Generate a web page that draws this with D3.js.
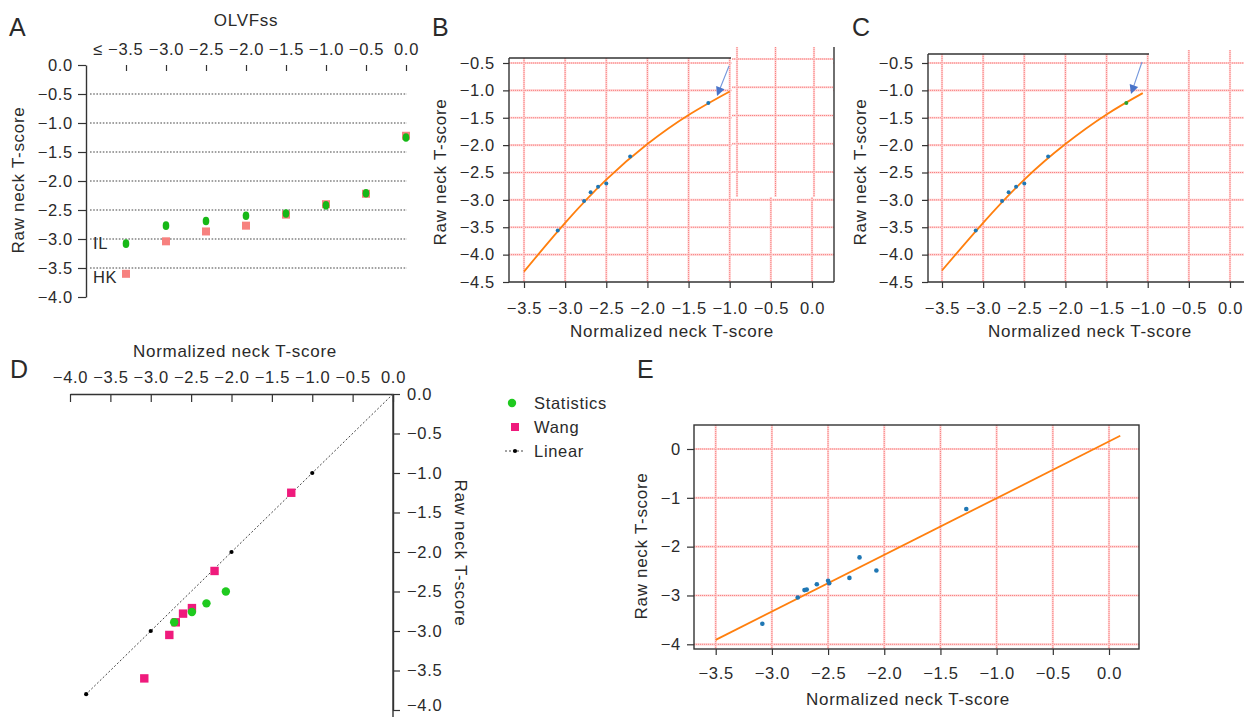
<!DOCTYPE html>
<html><head><meta charset="utf-8">
<script src="https://cdn.jsdelivr.net/npm/d3@7"></script>
<style>
body{margin:0;background:#fff;}
svg{font-family:"Liberation Sans",Arial,sans-serif;}
text{fill:#2a2a2a;}
</style></head>
<body>
<svg id="c" width="1244" height="717"></svg>
<script>
// ---------- DATA ----------
const olvfCategories = ["≤ −3.5","−3.0","−2.5","−2.0","−1.5","−1.0","−0.5","0.0"];
const aStatistics = [-3.08,-2.77,-2.69,-2.60,-2.56,-2.42,-2.21,-1.25];
const aWang       = [-3.60,-3.04,-2.87,-2.77,-2.58,-2.40,-2.22,-1.22];
const aYTicks = [0,-0.5,-1,-1.5,-2,-2.5,-3,-3.5,-4];

const fitNorm = [-3.09,-2.77,-2.69,-2.60,-2.50,-2.21,-1.26];
const fitRaw  = [-3.56,-3.02,-2.86,-2.76,-2.70,-2.21,-1.23];
const curveBNorm = [-3.5,-3.0,-2.5,-2.0,-1.5,-1.0];
const curveBRaw  = [-4.31,-3.42,-2.63,-1.98,-1.45,-1.02];
const curveCNorm = [-3.5,-3.0,-2.5,-2.0,-1.5,-1.06];
const curveCRaw  = [-4.29,-3.42,-2.63,-1.98,-1.44,-1.05];
const bcXTicks = [-3.5,-3,-2.5,-2,-1.5,-1,-0.5,0];
const bcYTicks = [-0.5,-1,-1.5,-2,-2.5,-3,-3.5,-4,-4.5];

const dWangNorm = [-1.26,-2.21,-2.49,-2.60,-2.69,-2.77,-3.08];
const dWangRaw  = [-1.25,-2.24,-2.71,-2.78,-2.89,-3.05,-3.60];
const dStatNorm = [-2.07,-2.31,-2.49,-2.71];
const dStatRaw  = [-2.50,-2.65,-2.76,-2.89];
const dLinear   = [0,-1,-2,-3,-3.8];
const dXTicks = [-4,-3.5,-3,-2.5,-2,-1.5,-1,-0.5,0];
const dYTicks = [0,-0.5,-1,-1.5,-2,-2.5,-3,-3.5,-4];

const eNorm = [-3.085,-2.77,-2.71,-2.69,-2.60,-2.50,-2.49,-2.31,-2.22,-2.07,-1.27];
const eRaw  = [-3.58,-3.04,-2.89,-2.88,-2.77,-2.70,-2.75,-2.64,-2.22,-2.49,-1.23];
const eLineNorm = [-3.5,0.1];
const eLineRaw  = [-3.91,0.27];
const eXTicks = [-3.5,-3,-2.5,-2,-1.5,-1,-0.5,0];
const eYTicks = [0,-1,-2,-3,-4];

const legendItems = ["Statistics","Wang","Linear"];

// ---------- STYLE ----------
const FS = 16.5, LS = "0.7px";
const GREEN = "#16b816", SALMON = "#f7817f", MAGENTA = "#ef1a7c";
const BLUE = "#1f77b4", ORANGE = "#ff7f0e", AXIS = "#333";
const f1 = d3.format(".1f");
const f0 = d3.format("d");

const svg = d3.select("#c");

function styleAxis(g){
  g.selectAll("text").attr("font-size",FS).attr("letter-spacing",LS).attr("fill","#2a2a2a")
   .attr("font-family","Liberation Sans, Arial, sans-serif");
  g.selectAll("line").attr("stroke",AXIS).attr("stroke-width",1.2);
  g.selectAll("path.domain").attr("stroke",AXIS).attr("stroke-width",1.4);
}
function label(x,y,t,opts={}){
  const el = svg.append("text").attr("x",x).attr("y",y).text(t)
    .attr("font-size",opts.size||FS+0.5).attr("letter-spacing",opts.ls===undefined?LS:opts.ls)
    .attr("text-anchor",opts.anchor||"start");
  if(opts.rotate!==undefined) el.attr("transform",`rotate(${opts.rotate},${x},${y})`);
  return el;
}
function pinkLine(g,x1,y1,x2,y2){
  g.append("line").attr("x1",x1).attr("y1",y1).attr("x2",x2).attr("y2",y2)
    .attr("stroke","#ffd0d0").attr("stroke-width",2.2);
  g.append("line").attr("x1",x1).attr("y1",y1).attr("x2",x2).attr("y2",y2)
    .attr("stroke","#f77a7a").attr("stroke-width",0.9).attr("stroke-dasharray","1 1");
}
function hline(x1,y,x2,w=1.4){svg.append("line").attr("x1",x1).attr("x2",x2).attr("y1",y).attr("y2",y).attr("stroke",AXIS).attr("stroke-width",w);}
function vline(x,y1,y2,w=1.4){svg.append("line").attr("x1",x).attr("x2",x).attr("y1",y1).attr("y2",y2).attr("stroke",AXIS).attr("stroke-width",w);}

// ---------- PANEL A ----------
{
  const x = d3.scalePoint().domain(olvfCategories).range([126,406]);
  const y = d3.scaleLinear().domain([0,-4]).range([65,297]);
  const g = svg.append("g");
  aYTicks.filter(v=>v<0 && v>-4).forEach(v=>{
    g.append("line").attr("x1",90).attr("x2",407).attr("y1",y(v)).attr("y2",y(v))
     .attr("stroke","#444").attr("stroke-width",1.1).attr("stroke-dasharray","1.6 1.6");
  });
  svg.append("g").attr("transform","translate(0,65)")
    .call(d3.axisTop(x).tickSize(-6).tickPadding(10))
    .call(gg=>gg.select(".domain").remove()).call(styleAxis)
    .call(gg=>gg.selectAll(".tick text").filter((d,i)=>i===0).attr("text-anchor","end").attr("x",17));
  svg.append("g").attr("transform","translate(86,0)")
    .call(d3.axisLeft(y).tickValues(aYTicks).tickFormat(f1).tickSize(8).tickPadding(5).tickSizeOuter(0))
    .call(styleAxis);
  g.selectAll("rect.w").data(aWang).join("rect")
    .attr("x",(d,i)=>x(olvfCategories[i])-4).attr("y",d=>y(d)-4).attr("width",8).attr("height",8).attr("fill",SALMON);
  g.selectAll("ellipse.s").data(aStatistics).join("ellipse")
    .attr("cx",(d,i)=>x(olvfCategories[i])).attr("cy",d=>y(d)).attr("rx",3.3).attr("ry",4.3).attr("fill",GREEN);
  label(93,249,"IL",{size:FS});
  label(93,283,"HK",{size:FS});
  label(246,26,"OLVFss",{anchor:"middle"});
  label(24,180,"Raw neck T-score",{anchor:"middle",rotate:-90});
  label(9,36,"A",{size:25,ls:0});
}

// ---------- PANELS B & C ----------
function curvePanel(opt){
  const x = d3.scaleLinear().domain([-3.5,0]).range(opt.xr);
  const y = d3.scaleLinear().domain([-0.5,-4.5]).range([63,282]);
  const g = svg.append("g");
  bcYTicks.slice(0,-1).forEach(v=>pinkLine(g,opt.left,y(v),opt.gridRight,y(v)));
  bcXTicks.forEach(v=>pinkLine(g,x(v),x(v)>opt.topEnd?opt.gridTop:opt.top,x(v),282));
  if(opt.patch){
    // pasted, slightly offset grid patch (upper-right of panel B)
    const px = d3.scaleLinear().domain([-1,0]).range([737,814]);
    const py = d3.scaleLinear().domain([-0.5,-2.5]).range([59,172]);
    g.append("rect").attr("x",731.5).attr("y",45).attr("width",102).attr("height",152).attr("fill","#fff");
    [-0.5,-1,-1.5,-2,-2.5].forEach(v=>pinkLine(g,732,py(v),833,py(v)));
    [-1,-0.5,0].forEach(v=>pinkLine(g,px(v),47,px(v),197));
    vline(834,47,282);
  }
  // frame
  hline(opt.left,opt.top,opt.topEnd);
  // axes
  svg.append("g").attr("transform","translate(0,282)")
    .call(d3.axisBottom(x).tickValues(bcXTicks).tickFormat(f1).tickSize(6).tickPadding(14))
    .call(gg=>gg.select(".domain").remove()).call(styleAxis);
  hline(opt.left,282,opt.axisRight);
  svg.append("g").attr("transform",`translate(${opt.left},0)`)
    .call(d3.axisLeft(y).tickValues(bcYTicks).tickFormat(f1).tickSize(6).tickPadding(8))
    .call(gg=>gg.select(".domain").remove()).call(styleAxis);
  vline(opt.left,opt.top,282);
  // fit curve
  const line = d3.line().x(d=>x(d[0])).y(d=>y(d[1])).curve(d3.curveNatural);
  g.append("path").datum(opt.cx.map((v,i)=>[v,opt.cy[i]])).attr("d",line)
    .attr("fill","none").attr("stroke",ORANGE).attr("stroke-width",1.8);
  g.selectAll("circle.p").data(fitNorm).join("circle")
    .attr("cx",d=>x(d)).attr("cy",(d,i)=>y(fitRaw[i])).attr("r",2)
    .attr("fill",(d,i)=>(opt.lastGreen && i===fitNorm.length-1)?"#2ca02c":BLUE);
  // arrow
  const a = opt.arrow;
  const ang = Math.atan2(a[3]-a[1],a[2]-a[0]);
  g.append("line").attr("x1",a[0]).attr("y1",a[1]).attr("x2",a[2]-Math.cos(ang)*6).attr("y2",a[3]-Math.sin(ang)*6)
    .attr("stroke","#7296dc").attr("stroke-width",1.1);
  const hl=9, hw=4.5;
  const bx=a[2]-Math.cos(ang)*hl, by=a[3]-Math.sin(ang)*hl;
  g.append("path").attr("d",`M${a[2]},${a[3]}L${bx-Math.sin(ang)*hw},${by+Math.cos(ang)*hw}L${bx+Math.sin(ang)*hw},${by-Math.cos(ang)*hw}Z`)
    .attr("fill","#4a74c9");
  label(opt.titleX,337,"Normalized neck T-score",{anchor:"middle"});
  label(opt.yTitleX,172,"Raw neck T-score",{anchor:"middle",rotate:-90});
  label(opt.letterX,36,opt.letter,{size:25,ls:0});
}
curvePanel({xr:[524,812],left:509,top:58,topEnd:731,gridTop:58,gridRight:834,axisRight:834,patch:true,
  cx:curveBNorm,cy:curveBRaw,arrow:[729,66,717,96],titleX:672,yTitleX:446,letter:"B",letterX:432});
curvePanel({xr:[942,1230],left:928,top:54,topEnd:1149,gridTop:50,gridRight:1244,axisRight:1244,patch:false,lastGreen:true,
  cx:curveCNorm,cy:curveCRaw,arrow:[1142,62,1131,94],titleX:1090,yTitleX:866,letter:"C",letterX:852});

// ---------- PANEL D ----------
{
  const x = d3.scaleLinear().domain([-4,0]).range([70,393]);
  const y = d3.scaleLinear().domain([0,-4]).range([394,710]);
  svg.append("g").attr("transform","translate(0,394)")
    .call(d3.axisTop(x).tickValues(dXTicks).tickFormat(f1).tickSize(-8).tickPadding(11).tickSizeOuter(0))
    .call(styleAxis);
  svg.append("g").attr("transform","translate(393,0)")
    .call(d3.axisRight(y).tickValues(dYTicks).tickFormat(f1).tickSize(7).tickPadding(7).tickSizeOuter(0))
    .call(styleAxis)
    .call(gg=>gg.selectAll(".tick text").filter(d=>d===-4).attr("dy","0.05em"));
  vline(393,394,717);
  const g = svg.append("g");
  g.append("path").datum(dLinear).attr("d",d3.line().x(d=>x(d)).y(d=>y(d)))
    .attr("fill","none").attr("stroke","#444").attr("stroke-width",1).attr("stroke-dasharray","2 2");
  g.selectAll("circle.l").data(dLinear.slice(1)).join("circle")
    .attr("cx",d=>x(d)).attr("cy",d=>y(d)).attr("r",2.1).attr("fill","#000");
  g.selectAll("rect.w").data(dWangNorm).join("rect")
    .attr("x",d=>x(d)-4.2).attr("y",(d,i)=>y(dWangRaw[i])-4.2).attr("width",8.4).attr("height",8.4).attr("fill",MAGENTA);
  g.selectAll("circle.s").data(dStatNorm).join("circle")
    .attr("cx",d=>x(d)).attr("cy",(d,i)=>y(dStatRaw[i])).attr("r",4.2).attr("fill","#1fca1f");
  label(235,357,"Normalized neck T-score",{anchor:"middle"});
  label(455,553,"Raw neck T-score",{anchor:"middle",rotate:90});
  label(10,378,"D",{size:25,ls:0});
}

// ---------- LEGEND ----------
{
  const ly = d3.scalePoint().domain(legendItems).range([403,451]);
  svg.append("circle").attr("cx",512).attr("cy",ly("Statistics")).attr("r",4.2).attr("fill","#1fca1f");
  svg.append("rect").attr("x",511).attr("y",ly("Wang")-4).attr("width",8).attr("height",8).attr("fill",MAGENTA);
  svg.append("line").attr("x1",505).attr("x2",524).attr("y1",ly("Linear")).attr("y2",ly("Linear"))
    .attr("stroke","#444").attr("stroke-dasharray","2 2");
  svg.append("circle").attr("cx",515).attr("cy",ly("Linear")).attr("r",2.1).attr("fill","#000");
  legendItems.forEach(t=>label(534,ly(t)+6,t,{size:FS}));
}

// ---------- PANEL E ----------
{
  const x = d3.scaleLinear().domain([-3.5,0]).range([715.7,1109]);
  const y = d3.scaleLinear().domain([0,-4]).range([449,644.3]);
  const L=694,R=1139,T=425,B=649;
  const g = svg.append("g");
  eYTicks.forEach(v=>pinkLine(g,L,y(v),R,y(v)));
  eXTicks.forEach(v=>pinkLine(g,x(v),T,x(v),B));
  g.append("rect").attr("x",L).attr("y",T).attr("width",R-L).attr("height",B-T)
    .attr("fill","none").attr("stroke",AXIS).attr("stroke-width",1.4);
  svg.append("g").attr("transform",`translate(0,${B})`)
    .call(d3.axisBottom(x).tickValues(eXTicks).tickFormat(f1).tickSize(6).tickPadding(12))
    .call(gg=>gg.select(".domain").remove()).call(styleAxis);
  svg.append("g").attr("transform",`translate(${L},0)`)
    .call(d3.axisLeft(y).tickValues(eYTicks).tickFormat(f0).tickSize(7).tickPadding(6))
    .call(gg=>gg.select(".domain").remove()).call(styleAxis);
  g.append("path").datum(eLineNorm.map((v,i)=>[v,eLineRaw[i]]))
    .attr("d",d3.line().x(d=>x(d[0])).y(d=>y(d[1])))
    .attr("fill","none").attr("stroke",ORANGE).attr("stroke-width",1.8);
  g.selectAll("circle.e").data(eNorm).join("circle")
    .attr("cx",d=>x(d)).attr("cy",(d,i)=>y(eRaw[i])).attr("r",2.3).attr("fill",BLUE);
  label(908,705,"Normalized neck T-score",{anchor:"middle"});
  label(647,546,"Raw neck T-score",{anchor:"middle",rotate:-90});
  label(637,378,"E",{size:25,ls:0});
}
</script>
</body></html>
